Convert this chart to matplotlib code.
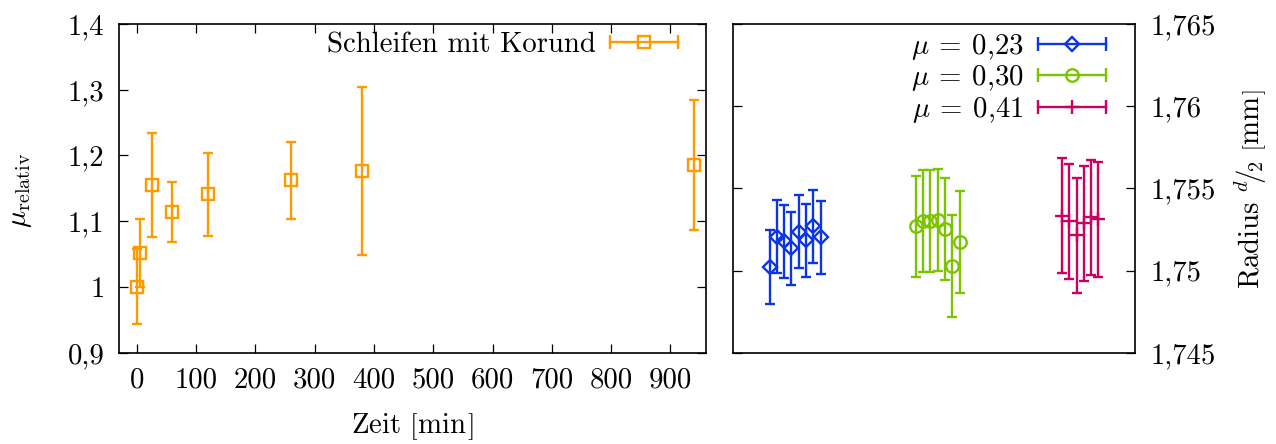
import matplotlib
matplotlib.use("Agg")
import matplotlib.pyplot as plt
from matplotlib.lines import Line2D
from matplotlib.legend_handler import HandlerLine2D, HandlerTuple

# ---------------- data ----------------
zeit = [0, 5, 25, 60, 120, 260, 380, 940]
mu_rel = [1.000, 1.052, 1.155, 1.114, 1.141, 1.162, 1.176, 1.186]
mu_err = [0.057, 0.052, 0.079, 0.046, 0.063, 0.058, 0.128, 0.099]

x_023 = [5, 6, 7, 8, 9, 10, 11, 12]
r_023 = [1.75021, 1.75207, 1.75177, 1.75136, 1.75237, 1.75183, 1.75268, 1.75201]
e_023 = [0.00223] * 8

x_030 = [25, 26, 27, 28, 29, 30, 31]
r_030 = [1.75268, 1.75299, 1.75300, 1.75310, 1.75252, 1.75028, 1.75171]
e_030 = [0.0031] * 7

x_041 = [45, 46, 47, 48, 49, 50]
r_041 = [1.75334, 1.75299, 1.75216, 1.75287, 1.75323, 1.75312]
e_041 = [0.0035] * 6

left_yticks = [0.9, 1.0, 1.1, 1.2, 1.3, 1.4]
left_yticklabels = ["0,9", "1", "1,1", "1,2", "1,3", "1,4"]
left_xticks = [0, 100, 200, 300, 400, 500, 600, 700, 800, 900]
right_yticks = [1.745, 1.75, 1.755, 1.76, 1.765]
right_yticklabels = ["1,745", "1,75", "1,755", "1,76", "1,765"]

# ---------------- style ----------------
plt.rcParams['font.family'] = ['cmr10', 'DejaVu Serif']
plt.rcParams['mathtext.fontset'] = 'cm'
plt.rcParams['axes.formatter.use_mathtext'] = True
FS = 20.7

C_OR = '#ff9a00'
C_BL = '#0b36e8'
C_GR = '#7cc300'
C_MA = '#cc0063'
LW = 1.7
CAP = 3.7

MS_S, MS_D, MS_O, MS_P = 9.0, 6.8, 9.0, 10.5
MEW = 1.7

W, H = 1276, 444
fig = plt.figure(figsize=(W / 100, H / 100), dpi=100)

def px_axes(l, t, r, b):
    return fig.add_axes([l / W, 1 - b / H, (r - l) / W, (b - t) / H])

ax1 = px_axes(119, 24, 706, 352.7)
ax2 = px_axes(733, 24, 1135, 352.7)

for ax in (ax1, ax2):
    for s in ax.spines.values():
        s.set_linewidth(1.2)

# ---------------- left panel ----------------
ax1.errorbar(zeit, mu_rel, yerr=mu_err, fmt='s', color=C_OR, mfc='none',
             ms=MS_S, mew=MEW, elinewidth=LW, capsize=CAP, capthick=LW)
ax1.set_xlim(-30, 960)
ax1.set_ylim(0.9, 1.4)
ax1.set_xticks(left_xticks)
ax1.set_xticklabels([str(v) for v in left_xticks])
ax1.set_yticks(left_yticks)
ax1.set_yticklabels(left_yticklabels)
ax1.tick_params(direction='in', length=6.3, width=0.9, top=True, right=True,
                labelsize=FS, pad=10.5)
ax1.set_xlabel(r'Zeit $\left[\mathrm{min}_{\,}^{\,}\!\right]$', fontsize=FS, labelpad=13)
fig.text(21 / W, 1 - 190 / H, r'$\mu_{\mathrm{relativ}}$', rotation=90,
         ha='center', va='center', fontsize=FS)

def legend_handle(color, marker, ms):
    caps = Line2D([], [], color=color, lw=LW, marker='|', ms=CAP * 2.7, mew=LW)
    mk = Line2D([], [], color=color, lw=0, marker=marker, ms=ms, mew=MEW,
                mfc='none' if marker != '+' else color)
    return (caps, mk)

HL = 2.37
h_or = legend_handle(C_OR, 's', MS_S)
hmap = {h_or[0]: HandlerLine2D(numpoints=2, marker_pad=0.0),
        h_or[1]: HandlerLine2D(numpoints=1),
        tuple: HandlerTuple(ndivide=1, pad=0)}
ax1.legend([h_or], ['Schleifen mit Korund'], handler_map=hmap, loc='upper right',
           bbox_to_anchor=(1 - 28 / 587, 1 - 8 / 328), frameon=False, fontsize=FS,
           markerfirst=False, handlelength=HL, handletextpad=0.49,
           borderaxespad=0, borderpad=0)

# ---------------- right panel ----------------
ax2.errorbar(x_023, r_023, yerr=e_023, fmt='D', color=C_BL, mfc='none',
             ms=MS_D, mew=MEW, elinewidth=LW, capsize=CAP, capthick=LW)
ax2.errorbar(x_030, r_030, yerr=e_030, fmt='o', color=C_GR, mfc='none',
             ms=MS_O, mew=MEW, elinewidth=LW, capsize=CAP, capthick=LW)
ax2.errorbar(x_041, r_041, yerr=e_041, fmt='+', color=C_MA,
             ms=MS_P, mew=MEW, elinewidth=LW, capsize=CAP, capthick=LW)
ax2.set_xlim(0, 55)
ax2.set_ylim(1.745, 1.765)
ax2.set_xticks([])
ax2.set_yticks(right_yticks)
ax2.set_yticklabels(right_yticklabels)
ax2.yaxis.tick_right()
ax2.tick_params(axis='y', direction='in', length=6.3, width=0.9, left=True,
                right=True, labelleft=False, labelright=True, labelsize=FS, pad=11)
fig.text(1251 / W, 1 - 189 / H,
         r'Radius $^{d}\!/\!_{2}$ $\left[\mathrm{mm}_{\,}^{\,}\!\right]$', rotation=90,
         ha='center', va='center', fontsize=FS)

h_b = legend_handle(C_BL, 'D', MS_D)
h_g = legend_handle(C_GR, 'o', MS_O)
h_m = legend_handle(C_MA, '+', MS_P)
hmap2 = {tuple: HandlerTuple(ndivide=1, pad=0)}
for h in (h_b, h_g, h_m):
    hmap2[h[0]] = HandlerLine2D(numpoints=2, marker_pad=0.0)
    hmap2[h[1]] = HandlerLine2D(numpoints=1)
ax2.legend([h_b, h_g, h_m],
           [r'$\mu\:=\:0{,}23$', r'$\mu\:=\:0{,}30$', r'$\mu\:=\:0{,}41$'],
           handler_map=hmap2, loc='upper right',
           bbox_to_anchor=(1 - 29 / 402, 1 - 8 / 328), frameon=False, fontsize=FS,
           markerfirst=False, handlelength=HL, handletextpad=0.49,
           labelspacing=0.05, borderaxespad=0, borderpad=0)

fig.savefig('out.png', dpi=100)
